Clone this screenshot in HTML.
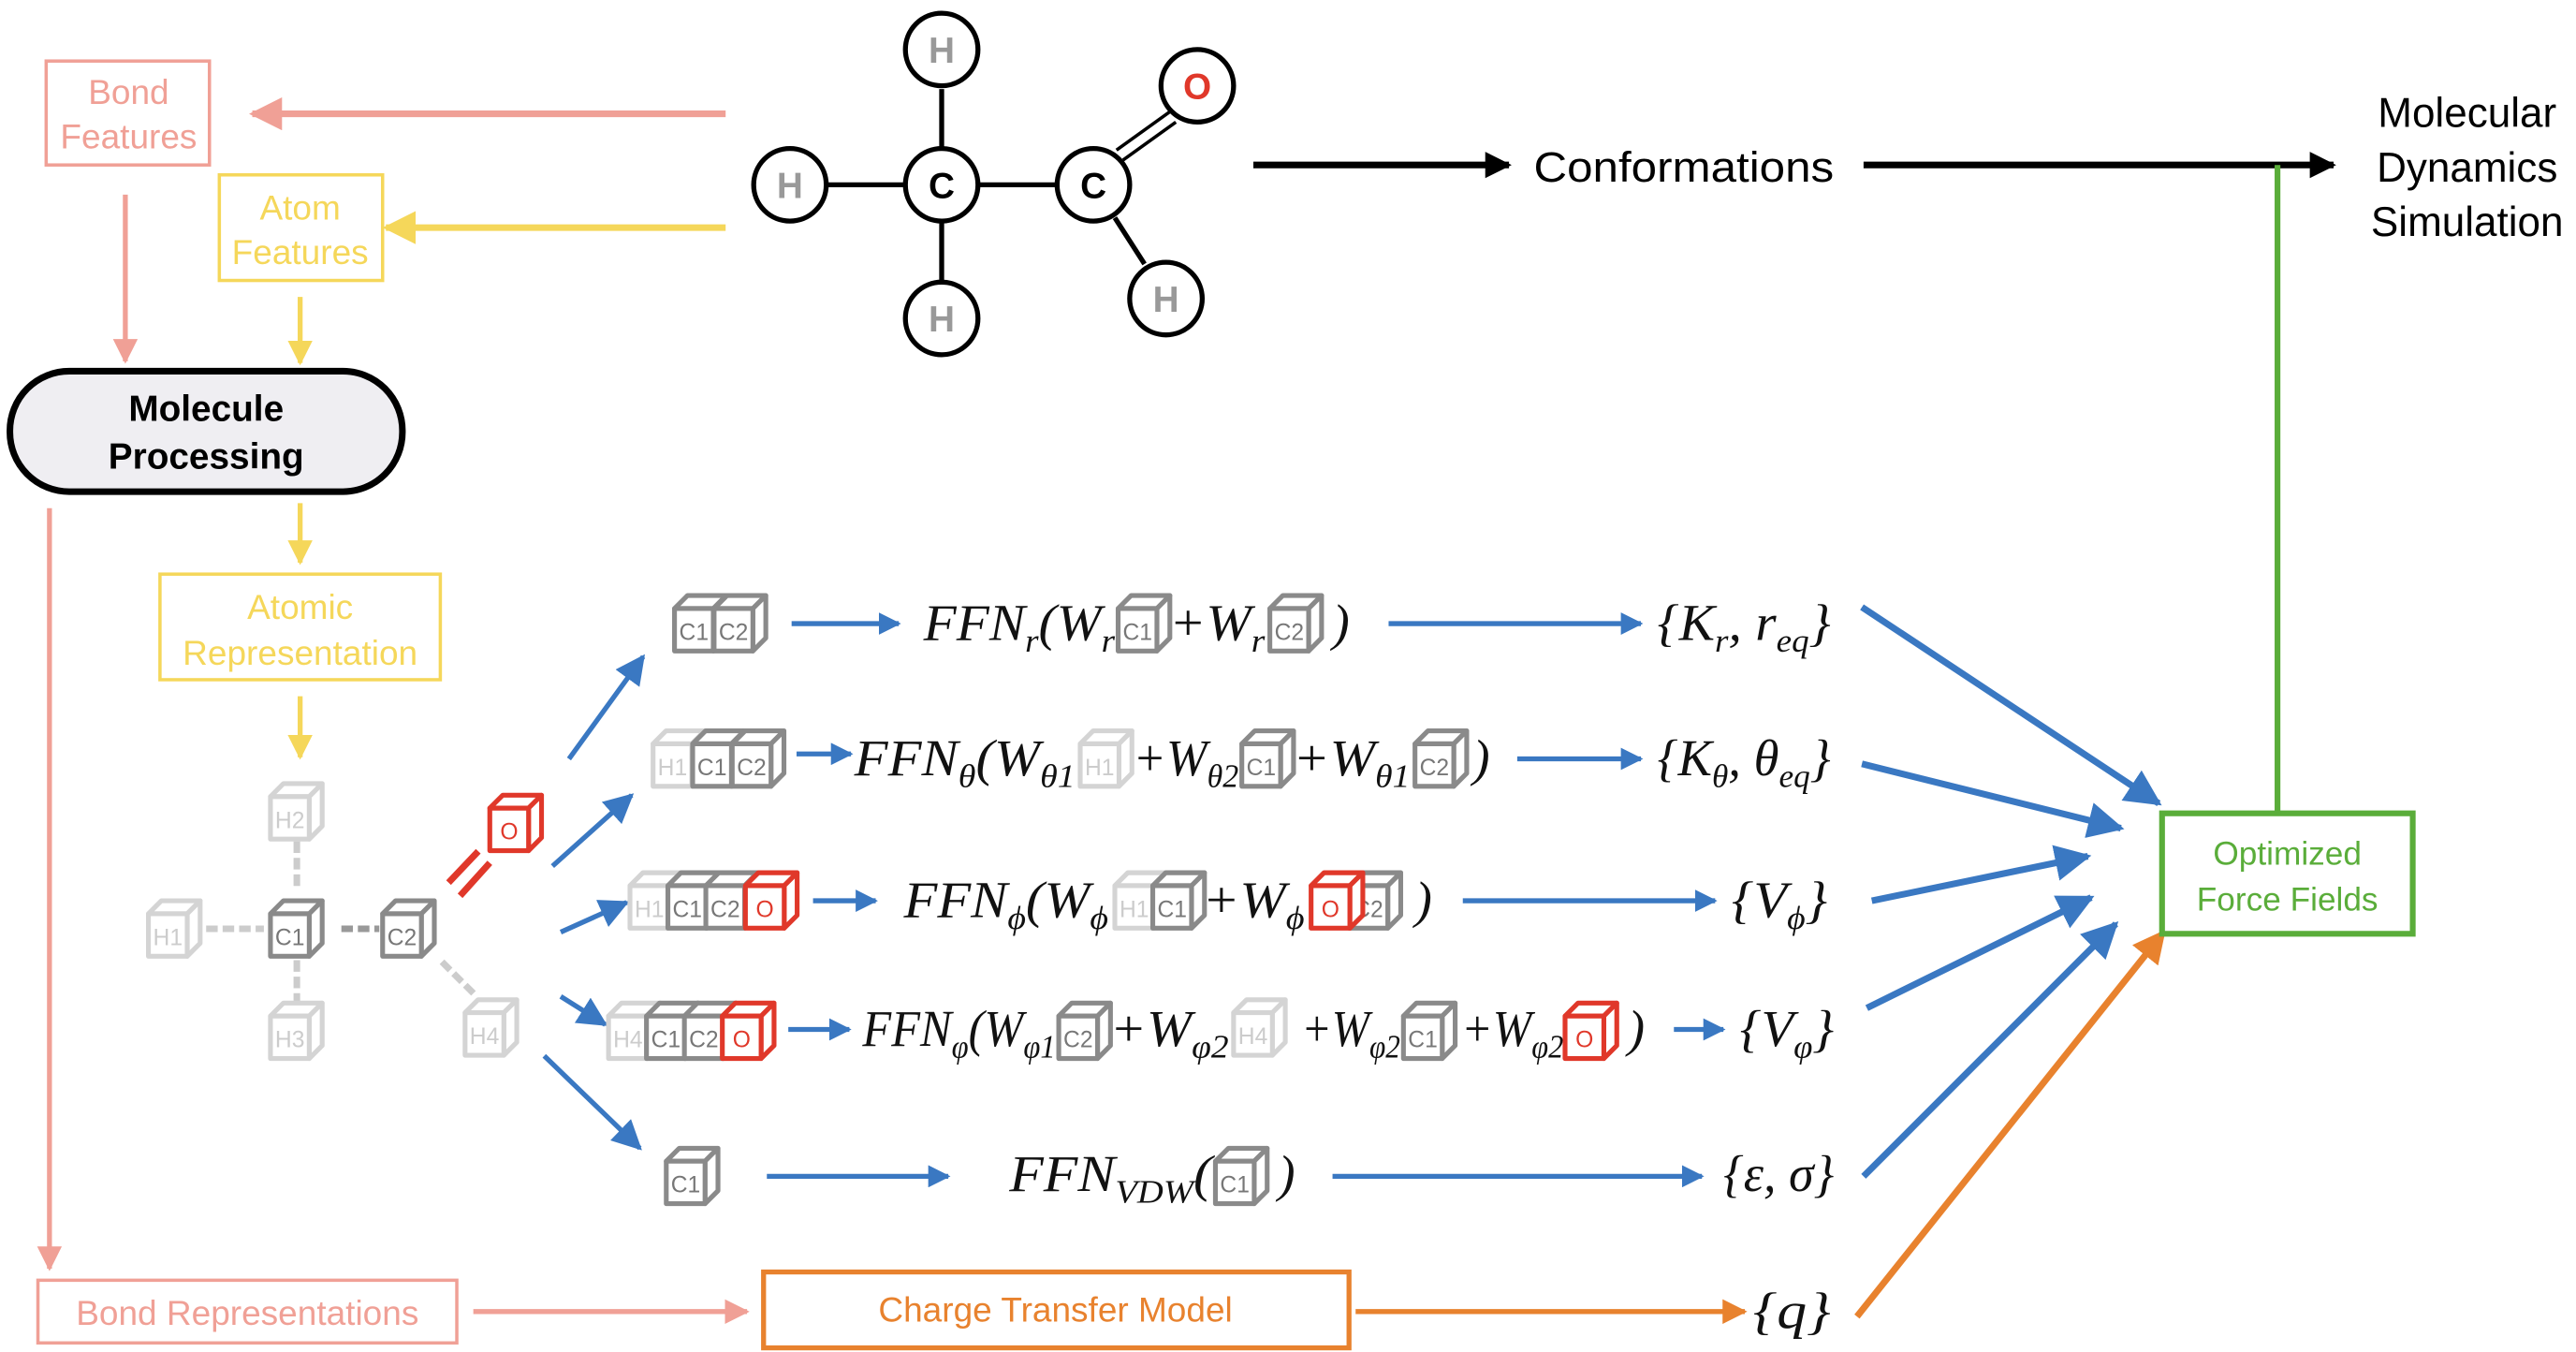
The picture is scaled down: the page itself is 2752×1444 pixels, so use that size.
<!DOCTYPE html>
<html><head><meta charset="utf-8"><style>
html,body{margin:0;padding:0;background:#fff;}
svg{display:block;}
.sans{font-family:"Liberation Sans",sans-serif;}
.m{font-family:"Liberation Serif",serif;font-style:italic;font-size:31px;fill:#111;}
.m .s{font-size:20px;}
.cl{font-family:"Liberation Sans",sans-serif;font-size:12.5px;text-anchor:middle;}
</style></head><body>
<svg width="2752" height="1444" viewBox="0 0 1562 819.5" preserveAspectRatio="none" xmlns="http://www.w3.org/2000/svg">
<defs>
<g id="cb">
<polygon points="0,7 7,0 28,0 21,7" fill="#fff"/>
<polygon points="21,7 28,0 28,23 21,30" fill="#fff"/>
<rect x="0" y="7" width="21" height="23" fill="#fff"/>
</g>
<marker id="ab" viewBox="0 0 10 10" refX="9" refY="5" markerWidth="4.5" markerHeight="4.5" orient="auto"><path d="M0,0L10,5L0,10z" fill="#3a78c2"/></marker>
<marker id="ab3" viewBox="0 0 10 10" refX="9" refY="5" markerWidth="5.5" markerHeight="5.5" orient="auto"><path d="M0,0L10,5L0,10z" fill="#3a78c2"/></marker>
<marker id="ab2" viewBox="0 0 10 10" refX="9" refY="5" markerWidth="6" markerHeight="6" orient="auto"><path d="M0,0L10,5L0,10z" fill="#3a78c2"/></marker>
<marker id="ak" viewBox="0 0 10 10" refX="9" refY="5" markerWidth="4" markerHeight="4" orient="auto"><path d="M0,0L10,5L0,10z" fill="#000"/></marker>
<marker id="as" viewBox="0 0 10 10" refX="9" refY="5" markerWidth="5" markerHeight="5" orient="auto"><path d="M0,0L10,5L0,10z" fill="#f0a096"/></marker>
<marker id="ay" viewBox="0 0 10 10" refX="9" refY="5" markerWidth="5" markerHeight="5" orient="auto"><path d="M0,0L10,5L0,10z" fill="#f5d75a"/></marker>
<marker id="ao" viewBox="0 0 10 10" refX="9" refY="5" markerWidth="5" markerHeight="5" orient="auto"><path d="M0,0L10,5L0,10z" fill="#e8822e"/></marker>
</defs>

<!-- Left column -->
<rect x="28" y="37" width="99" height="63" fill="none" stroke="#f0a096" stroke-width="2"/>
<text class="sans" x="78" y="63" font-size="21" fill="#f0a096" text-anchor="middle">Bond</text>
<text class="sans" x="78" y="90" font-size="21" fill="#f0a096" text-anchor="middle">Features</text>
<line x1="440" y1="69" x2="153" y2="69" stroke="#f0a096" stroke-width="4" marker-end="url(#as)"/>
<rect x="133" y="106" width="99" height="64" fill="none" stroke="#f5d75a" stroke-width="2"/>
<text class="sans" x="182" y="133" font-size="21" fill="#f5d75a" text-anchor="middle">Atom</text>
<text class="sans" x="182" y="160" font-size="21" fill="#f5d75a" text-anchor="middle">Features</text>
<line x1="440" y1="138" x2="234" y2="138" stroke="#f5d75a" stroke-width="4" marker-end="url(#ay)"/>
<line x1="76" y1="118" x2="76" y2="219" stroke="#f0a096" stroke-width="3" marker-end="url(#as)"/>
<line x1="182" y1="180" x2="182" y2="220" stroke="#f5d75a" stroke-width="3" marker-end="url(#ay)"/>
<rect x="6" y="225" width="238" height="73" rx="36" fill="#efeef2" stroke="#000" stroke-width="4"/>
<text class="sans" x="125" y="255" font-size="22" font-weight="bold" text-anchor="middle">Molecule</text>
<text class="sans" x="125" y="284" font-size="22" font-weight="bold" text-anchor="middle">Processing</text>
<line x1="182" y1="305" x2="182" y2="341" stroke="#f5d75a" stroke-width="3" marker-end="url(#ay)"/>
<rect x="97" y="348" width="170" height="64" fill="none" stroke="#f5d75a" stroke-width="2"/>
<text class="sans" x="182" y="375" font-size="21" fill="#f5d75a" text-anchor="middle">Atomic</text>
<text class="sans" x="182" y="403" font-size="21" fill="#f5d75a" text-anchor="middle">Representation</text>
<line x1="182" y1="422" x2="182" y2="459" stroke="#f5d75a" stroke-width="3" marker-end="url(#ay)"/>
<line x1="30" y1="308" x2="30" y2="769" stroke="#f0a096" stroke-width="3" marker-end="url(#as)"/>
<rect x="23" y="776" width="254" height="38" fill="none" stroke="#f0a096" stroke-width="2"/>
<text class="sans" x="150" y="803" font-size="21" fill="#f0a096" text-anchor="middle">Bond Representations</text>
<line x1="287" y1="795" x2="453" y2="795" stroke="#f0a096" stroke-width="3" marker-end="url(#as)"/>
<rect x="463" y="771" width="355" height="46" fill="none" stroke="#e8822e" stroke-width="3"/>
<text class="sans" x="640" y="801" font-size="21" fill="#e8822e" text-anchor="middle">Charge Transfer Model</text>
<line x1="822" y1="795" x2="1058" y2="795" stroke="#e8822e" stroke-width="3" marker-end="url(#ao)"/>
<text class="m" x="1063" y="805" textLength="47" lengthAdjust="spacingAndGlyphs">{q}</text>
<line x1="1126" y1="798" x2="1312" y2="565" stroke="#e8822e" stroke-width="4" marker-end="url(#ao)"/>

<!-- molecule -->
<g stroke="#000" stroke-width="3">
<line x1="502" y1="112" x2="548" y2="112"/><line x1="594" y1="112" x2="640" y2="112"/>
<line x1="571" y1="54" x2="571" y2="89"/><line x1="571" y1="135" x2="571" y2="170"/>
<line x1="676" y1="132" x2="694" y2="160"/>
<line x1="677" y1="91" x2="709" y2="68" stroke-width="2"/><line x1="681" y1="97" x2="713" y2="74" stroke-width="2"/>
</g>
<g fill="#fff" stroke="#000" stroke-width="3">
<circle cx="571" cy="30" r="22"/><circle cx="479" cy="112" r="22"/><circle cx="571" cy="112" r="22"/>
<circle cx="663" cy="112" r="22"/><circle cx="726" cy="52" r="22"/><circle cx="571" cy="193" r="22"/><circle cx="707" cy="181" r="22"/>
</g>
<g class="sans" font-size="22" font-weight="bold" text-anchor="middle">
<text x="571" y="38" fill="#999">H</text><text x="479" y="120" fill="#999">H</text><text x="571" y="120">C</text>
<text x="663" y="120">C</text><text x="726" y="60" fill="#e0382a">O</text><text x="571" y="201" fill="#999">H</text><text x="707" y="189" fill="#999">H</text>
</g>
<line x1="760" y1="100" x2="915" y2="100" stroke="#000" stroke-width="4" marker-end="url(#ak)"/>
<text class="sans" x="930" y="110" font-size="26" textLength="182" lengthAdjust="spacingAndGlyphs">Conformations</text>
<line x1="1130" y1="100" x2="1415" y2="100" stroke="#000" stroke-width="4" marker-end="url(#ak)"/>
<g class="sans" font-size="25" text-anchor="middle"><text x="1496" y="77">Molecular</text><text x="1496" y="110">Dynamics</text><text x="1496" y="143">Simulation</text></g>
<line x1="1381" y1="100" x2="1381" y2="492" stroke="#5aad3a" stroke-width="3.5"/>
<rect x="1311" y="493" width="152" height="73" fill="#fff" stroke="#5aad3a" stroke-width="3.5"/>
<g class="sans" font-size="20" fill="#5aad3a" text-anchor="middle"><text x="1387" y="524">Optimized</text><text x="1387" y="552">Force Fields</text></g>

<!-- left graph -->
<g stroke-width="4" stroke-dasharray="7,3">
<line x1="180" y1="510" x2="180" y2="540" stroke="#ccc"/><line x1="180" y1="582" x2="180" y2="608" stroke="#ccc"/>
<line x1="125" y1="563" x2="160" y2="563" stroke="#ccc"/><line x1="207" y1="563" x2="230" y2="563" stroke="#999"/>
<line x1="268" y1="583" x2="288" y2="603" stroke="#ccc"/>
</g>
<g stroke="#e0382a" stroke-width="4"><line x1="272" y1="535" x2="290" y2="516"/><line x1="279" y1="543" x2="297" y2="523"/></g>
<g stroke-width="2.6" stroke-linejoin="round">
<g transform="translate(164,475) scale(1.12)" stroke="#d4d4d4"><use href="#cb"/><text class="cl" x="10.5" y="24" fill="#ccc" stroke="none">H2</text></g>
<g transform="translate(90,546) scale(1.12)" stroke="#d4d4d4"><use href="#cb"/><text class="cl" x="10.5" y="24" fill="#ccc" stroke="none">H1</text></g>
<g transform="translate(164,546) scale(1.12)" stroke="#8a8a8a"><use href="#cb"/><text class="cl" x="10.5" y="24" fill="#777" stroke="none">C1</text></g>
<g transform="translate(232,546) scale(1.12)" stroke="#8a8a8a"><use href="#cb"/><text class="cl" x="10.5" y="24" fill="#777" stroke="none">C2</text></g>
<g transform="translate(297,482) scale(1.12)" stroke="#e0382a"><use href="#cb"/><text class="cl" x="10.5" y="24" fill="#e0382a" stroke="none">O</text></g>
<g transform="translate(164,608) scale(1.12)" stroke="#d4d4d4"><use href="#cb"/><text class="cl" x="10.5" y="24" fill="#ccc" stroke="none">H3</text></g>
<g transform="translate(282,606) scale(1.12)" stroke="#d4d4d4"><use href="#cb"/><text class="cl" x="10.5" y="24" fill="#ccc" stroke="none">H4</text></g>
</g>
<g stroke="#3a78c2" stroke-width="3" marker-end="url(#ab2)">
<line x1="345" y1="460" x2="390" y2="398"/><line x1="335" y1="525" x2="383" y2="482"/>
<line x1="340" y1="565" x2="380" y2="547"/><line x1="340" y1="604" x2="367" y2="621"/>
<line x1="330" y1="640" x2="388" y2="696"/>
</g>

<!-- blue row arrows -->
<g stroke="#3a78c2" stroke-width="3" marker-end="url(#ab)">
<line x1="480" y1="378" x2="545" y2="378"/><line x1="842" y1="378" x2="995" y2="378"/>
<line x1="483" y1="457" x2="516" y2="457"/><line x1="920" y1="460" x2="995" y2="460"/>
<line x1="493" y1="546" x2="531" y2="546"/><line x1="887" y1="546" x2="1040" y2="546"/>
<line x1="478" y1="624" x2="515" y2="624"/><line x1="1015" y1="624" x2="1045" y2="624"/>
<line x1="465" y1="713" x2="575" y2="713"/><line x1="808" y1="713" x2="1032" y2="713"/>
</g>
<g stroke="#3a78c2" stroke-width="4" marker-end="url(#ab3)">
<line x1="1129" y1="368" x2="1309" y2="487"/><line x1="1129" y1="463" x2="1286" y2="502"/>
<line x1="1135" y1="546" x2="1266" y2="519"/><line x1="1132" y1="611" x2="1268" y2="544"/>
<line x1="1130" y1="713" x2="1283" y2="560"/>
</g>

<!-- row cubes -->
<g stroke-width="2.6" stroke-linejoin="round">
<g transform="translate(409,361) scale(1.12)" stroke="#8a8a8a"><use href="#cb"/><text class="cl" x="10.5" y="24" fill="#777" stroke="none">C1</text></g>
<g transform="translate(433,361) scale(1.12)" stroke="#8a8a8a"><use href="#cb"/><text class="cl" x="10.5" y="24" fill="#777" stroke="none">C2</text></g>
<g transform="translate(678,361) scale(1.12)" stroke="#8a8a8a"><use href="#cb"/><text class="cl" x="10.5" y="24" fill="#777" stroke="none">C1</text></g>
<g transform="translate(770,361) scale(1.12)" stroke="#8a8a8a"><use href="#cb"/><text class="cl" x="10.5" y="24" fill="#777" stroke="none">C2</text></g>

<g transform="translate(396,443) scale(1.12)" stroke="#d4d4d4"><use href="#cb"/><text class="cl" x="10.5" y="24" fill="#ccc" stroke="none">H1</text></g>
<g transform="translate(420,443) scale(1.12)" stroke="#8a8a8a"><use href="#cb"/><text class="cl" x="10.5" y="24" fill="#777" stroke="none">C1</text></g>
<g transform="translate(444,443) scale(1.12)" stroke="#8a8a8a"><use href="#cb"/><text class="cl" x="10.5" y="24" fill="#777" stroke="none">C2</text></g>
<g transform="translate(655,443) scale(1.12)" stroke="#d4d4d4"><use href="#cb"/><text class="cl" x="10.5" y="24" fill="#ccc" stroke="none">H1</text></g>
<g transform="translate(753,443) scale(1.12)" stroke="#8a8a8a"><use href="#cb"/><text class="cl" x="10.5" y="24" fill="#777" stroke="none">C1</text></g>
<g transform="translate(858,443) scale(1.12)" stroke="#8a8a8a"><use href="#cb"/><text class="cl" x="10.5" y="24" fill="#777" stroke="none">C2</text></g>

<g transform="translate(382,529) scale(1.12)" stroke="#d4d4d4"><use href="#cb"/><text class="cl" x="10.5" y="24" fill="#ccc" stroke="none">H1</text></g>
<g transform="translate(405,529) scale(1.12)" stroke="#8a8a8a"><use href="#cb"/><text class="cl" x="10.5" y="24" fill="#777" stroke="none">C1</text></g>
<g transform="translate(428,529) scale(1.12)" stroke="#8a8a8a"><use href="#cb"/><text class="cl" x="10.5" y="24" fill="#777" stroke="none">C2</text></g>
<g transform="translate(452,529) scale(1.12)" stroke="#e0382a"><use href="#cb"/><text class="cl" x="10.5" y="24" fill="#e0382a" stroke="none">O</text></g>
<g transform="translate(676,529) scale(1.12)" stroke="#d4d4d4"><use href="#cb"/><text class="cl" x="10.5" y="24" fill="#ccc" stroke="none">H1</text></g>
<g transform="translate(699,529) scale(1.12)" stroke="#8a8a8a"><use href="#cb"/><text class="cl" x="10.5" y="24" fill="#777" stroke="none">C1</text></g>
<g transform="translate(818,529) scale(1.12)" stroke="#8a8a8a"><use href="#cb"/><text class="cl" x="10.5" y="24" fill="#777" stroke="none">C2</text></g>
<g transform="translate(795,529) scale(1.12)" stroke="#e0382a"><use href="#cb"/><text class="cl" x="10.5" y="24" fill="#e0382a" stroke="none">O</text></g>

<g transform="translate(369,608) scale(1.12)" stroke="#d4d4d4"><use href="#cb"/><text class="cl" x="10.5" y="24" fill="#ccc" stroke="none">H4</text></g>
<g transform="translate(392,608) scale(1.12)" stroke="#8a8a8a"><use href="#cb"/><text class="cl" x="10.5" y="24" fill="#777" stroke="none">C1</text></g>
<g transform="translate(415,608) scale(1.12)" stroke="#8a8a8a"><use href="#cb"/><text class="cl" x="10.5" y="24" fill="#777" stroke="none">C2</text></g>
<g transform="translate(438,608) scale(1.12)" stroke="#e0382a"><use href="#cb"/><text class="cl" x="10.5" y="24" fill="#e0382a" stroke="none">O</text></g>
<g transform="translate(642,608) scale(1.12)" stroke="#8a8a8a"><use href="#cb"/><text class="cl" x="10.5" y="24" fill="#777" stroke="none">C2</text></g>
<g transform="translate(748,606) scale(1.12)" stroke="#d4d4d4"><use href="#cb"/><text class="cl" x="10.5" y="24" fill="#ccc" stroke="none">H4</text></g>
<g transform="translate(851,608) scale(1.12)" stroke="#8a8a8a"><use href="#cb"/><text class="cl" x="10.5" y="24" fill="#777" stroke="none">C1</text></g>
<g transform="translate(949,608) scale(1.12)" stroke="#e0382a"><use href="#cb"/><text class="cl" x="10.5" y="24" fill="#e0382a" stroke="none">O</text></g>

<g transform="translate(404,696) scale(1.12)" stroke="#8a8a8a"><use href="#cb"/><text class="cl" x="10.5" y="24" fill="#777" stroke="none">C1</text></g>
<g transform="translate(737,696) scale(1.12)" stroke="#8a8a8a"><use href="#cb"/><text class="cl" x="10.5" y="24" fill="#777" stroke="none">C1</text></g>
</g>

<!-- formulas -->
<g class="m">
<text x="560" y="388" textLength="116" lengthAdjust="spacingAndGlyphs">FFN<tspan class="s" dy="7">r</tspan><tspan dy="-7">(W</tspan><tspan class="s" dy="7">r</tspan></text>
<text x="709" y="388" textLength="58" lengthAdjust="spacingAndGlyphs">+W<tspan class="s" dy="7">r</tspan></text>
<text x="808" y="388">)</text>
<text x="1005" y="388" textLength="105" lengthAdjust="spacingAndGlyphs">{K<tspan class="s" dy="7">r</tspan><tspan dy="-7">, r</tspan><tspan class="s" dy="7">eq</tspan><tspan dy="-7">}</tspan></text>

<text x="518" y="470" textLength="134" lengthAdjust="spacingAndGlyphs">FFN<tspan class="s" dy="7">θ</tspan><tspan dy="-7">(W</tspan><tspan class="s" dy="7">θ1</tspan></text>
<text x="687" y="470" textLength="64" lengthAdjust="spacingAndGlyphs">+W<tspan class="s" dy="7">θ2</tspan></text>
<text x="784" y="470" textLength="71" lengthAdjust="spacingAndGlyphs">+W<tspan class="s" dy="7">θ1</tspan></text>
<text x="893" y="470">)</text>
<text x="1005" y="470" textLength="105" lengthAdjust="spacingAndGlyphs">{K<tspan class="s" dy="7">θ</tspan><tspan dy="-7">, θ</tspan><tspan class="s" dy="7">eq</tspan><tspan dy="-7">}</tspan></text>

<text x="548" y="556" textLength="124" lengthAdjust="spacingAndGlyphs">FFN<tspan class="s" dy="7">ϕ</tspan><tspan dy="-7">(W</tspan><tspan class="s" dy="7">ϕ</tspan></text>
<text x="729" y="556" textLength="62" lengthAdjust="spacingAndGlyphs">+W<tspan class="s" dy="7">ϕ</tspan></text>
<text x="858" y="556">)</text>
<text x="1050" y="556" textLength="58" lengthAdjust="spacingAndGlyphs">{V<tspan class="s" dy="7">ϕ</tspan><tspan dy="-7">}</tspan></text>

<text x="523" y="634" textLength="117" lengthAdjust="spacingAndGlyphs">FFN<tspan class="s" dy="7">φ</tspan><tspan dy="-7">(W</tspan><tspan class="s" dy="7">φ1</tspan></text>
<text x="673" y="634" textLength="72" lengthAdjust="spacingAndGlyphs">+W<tspan class="s" dy="7">φ2</tspan></text>
<text x="789" y="634" textLength="60" lengthAdjust="spacingAndGlyphs">+W<tspan class="s" dy="7">φ2</tspan></text>
<text x="886" y="634" textLength="62" lengthAdjust="spacingAndGlyphs">+W<tspan class="s" dy="7">φ2</tspan></text>
<text x="987" y="634">)</text>
<text x="1055" y="634" textLength="57" lengthAdjust="spacingAndGlyphs">{V<tspan class="s" dy="7">φ</tspan><tspan dy="-7">}</tspan></text>

<text x="612" y="722" textLength="123" lengthAdjust="spacingAndGlyphs">FFN<tspan class="s" dy="7">VDW</tspan><tspan dy="-7">(</tspan></text>
<text x="775" y="722">)</text>
<text x="1045" y="722" textLength="67" lengthAdjust="spacingAndGlyphs">{ε, σ}</text>
</g>
</svg>
</body></html>
